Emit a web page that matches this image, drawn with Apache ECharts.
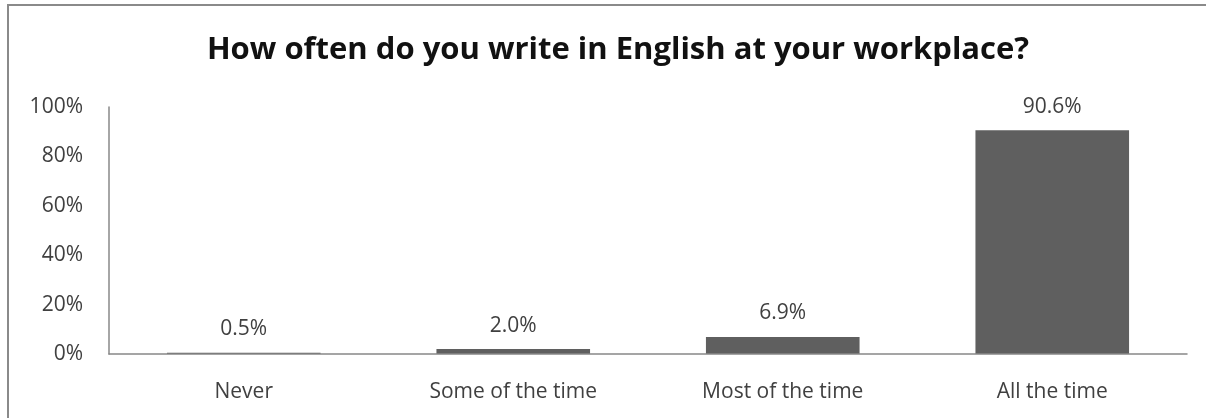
<!DOCTYPE html>
<html>
<head>
<meta charset="utf-8">
<script src="https://cdn.jsdelivr.net/npm/echarts@6/dist/echarts.min.js"></script>
<style>
  html, body { margin: 0; padding: 0; background: #ffffff; }
  #chart { width: 1206px; height: 418px; }
</style>
</head>
<body>
<div id="chart"></div>
<script>
// Survey answers and the share of respondents for each (percent)
const categories = ['Never', 'Some of the time', 'Most of the time', 'All the time'];
const shares = [0.5, 2.0, 6.9, 90.6];
const yTicks = [0, 20, 40, 60, 80, 100];

const chart = echarts.init(document.getElementById('chart'), null, { renderer: 'canvas' });
const FONT = '"Open Sans", Lato, sans-serif';

chart.setOption({
  animation: false,
  backgroundColor: '#ffffff',
  title: {
    text: 'How often do you write in English at your workplace?',
    left: 613,
    top: 30,
    textAlign: 'center',
    textStyle: { fontFamily: FONT, fontSize: 31, fontWeight: 'bold', color: '#111111' }
  },
  // frame around the chart area
  graphic: [{
    type: 'rect',
    shape: { x: 8, y: 5, width: 1400, height: 600 },
    style: { fill: 'none', stroke: '#8a8a8a', lineWidth: 2 },
    silent: true,
    z: 100
  }],
  grid: { left: 109, right: 19, top: 107, bottom: 64 },
  xAxis: {
    type: 'category',
    data: categories,
    z: 3,
    axisLine: { show: true, lineStyle: { color: '#888888', width: 1.5 } },
    axisTick: { show: false },
    axisLabel: { fontFamily: FONT, fontSize: 21, color: '#404040', margin: 28 }
  },
  yAxis: {
    type: 'value',
    min: yTicks[0],
    max: yTicks[yTicks.length - 1],
    interval: yTicks[1] - yTicks[0],
    axisLine: { show: true, lineStyle: { color: '#888888', width: 1.5 } },
    axisTick: { show: false },
    splitLine: { show: false },
    axisLabel: {
      fontFamily: FONT, fontSize: 21, color: '#404040', margin: 26,
      formatter: v => v + '%'
    }
  },
  series: [{
    type: 'bar',
    data: shares,
    barWidth: '57%',
    itemStyle: { color: '#5f5f5f' },
    label: {
      show: true,
      position: 'top',
      distance: 13,
      fontFamily: FONT, fontSize: 21, color: '#404040',
      formatter: p => p.value.toFixed(1) + '%'
    }
  }]
});
</script>
</body>
</html>
